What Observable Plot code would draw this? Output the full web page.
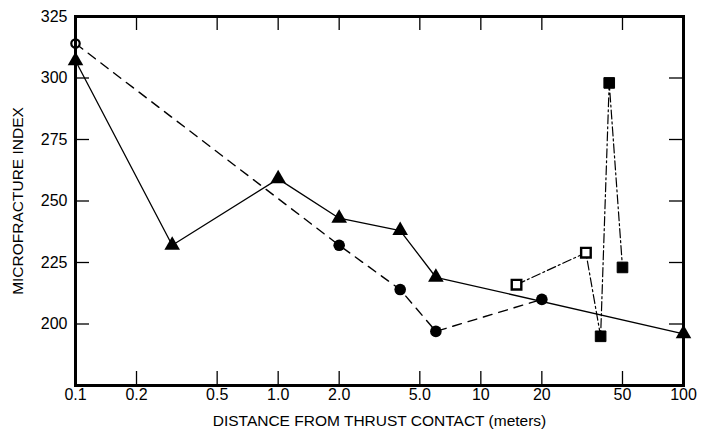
<!DOCTYPE html>
<html>
<head>
<meta charset="utf-8">
<script src="https://cdn.jsdelivr.net/npm/d3@7"></script>
<script src="https://cdn.jsdelivr.net/npm/@observablehq/plot@0.6"></script>
<style>
  html, body { margin: 0; padding: 0; background: #fff; }
  #chart svg { display: block; }
</style>
</head>
<body>
<div id="chart"></div>
<script>
// Series: triangles (solid line)
const triX = [0.1, 0.3, 1.0, 2.0, 4.0, 6.0, 100];
const triY = [307, 232, 259, 243, 238, 219, 196];
// Series: circles (dashed line); first point open
const circX = [0.1, 2.0, 4.0, 6.0, 20];
const circY = [314, 232, 214, 197, 210];
const circFilled = [false, true, true, true, true];
// Series: squares (dash-dot line); first two open
const sqX = [15, 33, 39, 43, 50];
const sqY = [216, 229, 195, 298, 223];
const sqFilled = [false, false, true, true, true];

// Axis ticks and labels
const xTicks = [0.1, 0.2, 0.5, 1, 2, 5, 10, 20, 50, 100];
const xTickLabels = ["0.1", "0.2", "0.5", "1.0", "2.0", "5.0", "10", "20", "50", "100"];
const yTicks = [200, 225, 250, 275, 300, 325];
const yTickLabels = ["200", "225", "250", "275", "300", "325"];
const xTitle = "DISTANCE FROM THRUST CONTACT (meters)";
const yTitle = "MICROFRACTURE INDEX";

const tri = triX.map((x, i) => ({x, y: triY[i]}));
const circ = circX.map((x, i) => ({x, y: circY[i], filled: circFilled[i]}));
const sq = sqX.map((x, i) => ({x, y: sqY[i], filled: sqFilled[i]}));

const W = 703, H = 434;
const mL = 75, mR = 20, mT = 16, mB = 49;
const innerH = H - mT - mB;
const innerW = W - mL - mR;
const tickLen = 14;
const font = "'Liberation Sans', Arial, sans-serif";

const chart = Plot.plot({
  width: W,
  height: H,
  marginLeft: mL,
  marginRight: mR,
  marginTop: mT,
  marginBottom: mB,
  style: {fontFamily: font, background: "#fff", color: "#000"},
  x: {type: "log", domain: [0.1, 100], axis: null},
  y: {domain: [175, 325], axis: null},
  marks: [
    // inward ticks: bottom and top
    Plot.tickX(xTicks, {x: d => d, insetTop: innerH - tickLen, stroke: "#000", strokeWidth: 1.3}),
    Plot.tickX(xTicks, {x: d => d, insetBottom: innerH - tickLen, stroke: "#000", strokeWidth: 1.3}),
    // inward ticks: left and right
    Plot.tickY(yTicks, {y: d => d, insetRight: innerW - tickLen, stroke: "#000", strokeWidth: 1.3}),
    Plot.tickY(yTicks, {y: d => d, insetLeft: innerW - tickLen, stroke: "#000", strokeWidth: 1.3}),
    // tick labels
    Plot.text(xTicks, {x: d => d, frameAnchor: "bottom", dy: 14, text: (d, i) => xTickLabels[i], fontSize: 16, fill: "#000"}),
    Plot.text(yTicks, {y: d => d, frameAnchor: "left", dx: -8, textAnchor: "end", text: (d, i) => yTickLabels[i], fontSize: 16, fill: "#000"}),
    // axis titles
    Plot.text([xTitle], {frameAnchor: "bottom", dy: 40, text: d => d, fontSize: 15.5, fill: "#000"}),
    Plot.text([yTitle], {frameAnchor: "left", dx: -57, rotate: -90, textAnchor: "middle", text: d => d, fontSize: 15.5, fill: "#000"}),
    // lines
    Plot.line(tri, {x: "x", y: "y", stroke: "#000", strokeWidth: 1.3}),
    Plot.line(circ, {x: "x", y: "y", stroke: "#000", strokeWidth: 1.4, strokeDasharray: "9,7"}),
    Plot.line(sq, {x: "x", y: "y", stroke: "#000", strokeWidth: 1.2, strokeDasharray: "9,3,2,3"}),
    // markers
    Plot.dot(tri, {x: "x", y: "y", symbol: "triangle", r: 5.8, fill: "#000", stroke: "none"}),
    Plot.dot(circ.filter(d => d.filled), {x: "x", y: "y", symbol: "circle", r: 5.8, fill: "#000", stroke: "none"}),
    Plot.dot(circ.filter(d => !d.filled), {x: "x", y: "y", symbol: "circle", r: 4.2, fill: "#fff", stroke: "#000", strokeWidth: 2.2}),
    Plot.dot(sq.filter(d => d.filled), {x: "x", y: "y", symbol: "square", r: 6, fill: "#000", stroke: "#000", strokeWidth: 1}),
    Plot.dot(sq.filter(d => !d.filled), {x: "x", y: "y", symbol: "square", r: 5.4, fill: "#fff", stroke: "#000", strokeWidth: 2.4}),
    // frame
    Plot.frame({stroke: "#000", strokeWidth: 3})
  ]
});
document.getElementById("chart").appendChild(chart);
</script>
</body>
</html>
